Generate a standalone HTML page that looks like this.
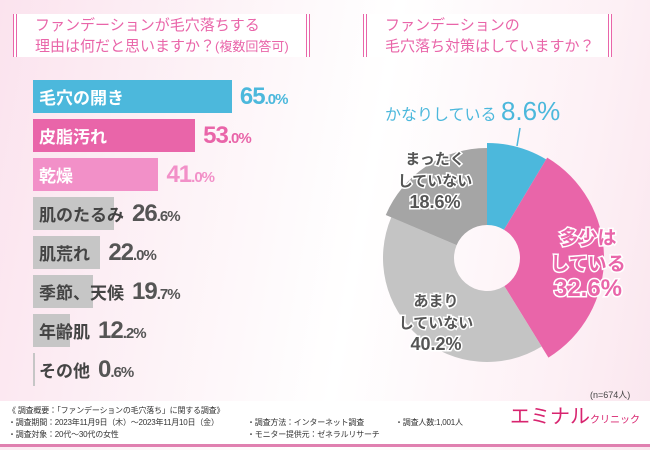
<!DOCTYPE html>
<html><head><meta charset="utf-8">
<style>
*{margin:0;padding:0;box-sizing:border-box}
body{width:650px;height:450px;overflow:hidden;font-family:"Liberation Sans","Noto Sans CJK JP",sans-serif;position:relative;background:linear-gradient(100deg,#fbe3ee 0%,#fdf3f7 30%,#fff 55%,#fdf0f5 85%,#fae6ee 100%)}
.tbox{position:absolute;background:#fff;border-left:4px double #e965a9;border-right:4px double #e965a9;color:#e965a9;font-size:15px;line-height:21px;padding:1px 0 0 18px}
.row{position:absolute;left:33px;height:33px;display:flex;align-items:center}
.bar{position:absolute;left:0;top:0;height:33px}
.lab{position:relative;font-size:17px;padding-left:6px;color:#444;font-weight:bold}
.val{position:relative;margin-left:8px;font-weight:bold;color:#555;letter-spacing:-1px}
.val b{font-size:24px}.val i{font-style:normal;font-size:15px}
.foot{position:absolute;left:0;top:401px;width:650px;height:46px;background:#fff;border-bottom:3px solid #e080b0;font-size:8px;color:#333;line-height:12px;letter-spacing:-0.2px;white-space:nowrap}
</style></head><body>
<div class="tbox" style="left:13px;top:14px;width:297px;height:43px">ファンデーションが毛穴落ちする<br>理由は何だと思いますか？<span style="font-size:13px">(複数回答可)</span></div>
<div class="tbox" style="left:363px;top:14px;width:249px;height:43px">ファンデーションの<br>毛穴落ち対策はしていますか？</div>
<div id="bars"></div>
<svg id="pie" width="650" height="450" style="position:absolute;left:0;top:0"></svg>
<div style="position:absolute;left:590px;top:388px;font-size:9px;color:#444">(n=674人)</div>
<div class="foot">
<div style="position:absolute;left:8px;top:4px">《 調査概要：「ファンデーションの毛穴落ち」に関する調査》<br>・調査期間：2023年11月9日（木）～2023年11月10日（金）<br>・調査対象：20代～30代の女性</div>
<div style="position:absolute;left:247px;top:16px">・調査方法：インターネット調査<br>・モニター提供元：ゼネラルリサーチ</div>
<div style="position:absolute;left:395px;top:16px">・調査人数:1,001人</div>
<div style="position:absolute;left:510px;top:10px;color:#d8246f;font-size:20px;letter-spacing:0;white-space:nowrap">エミナル<span style="font-size:10px">クリニック</span></div>
</div>
<script>
const categories=["毛穴の開き","皮脂汚れ","乾燥","肌のたるみ","肌荒れ","季節、天候","年齢肌","その他"];
const values=[65.0,53.0,41.0,26.6,22.0,19.7,12.2,0.6];
const barColors=["#4cb8dc","#e965a9","#f290c8","#c6c6c6","#c6c6c6","#c6c6c6","#c6c6c6","#c6c6c6"];
const valColors=["#4cb8dc","#e965a9","#f290c8","#555","#555","#555","#555","#555"];
const pieLabels=["かなりしている","多少はしている","あまりしていない","まったくしていない"];
const pieValues=[8.6,32.6,40.2,18.6];
const pieColors=["#4cb8dc","#e965a9","#c4c4c4","#a5a5a5"];
const pieRadii=[115,117,104,110];
const xs=v=>v*3.06, ys=i=>80+i*39;
const bc=document.getElementById('bars');
categories.forEach((c,i)=>{
 const r=document.createElement('div');r.className='row';r.style.top=ys(i)+'px';
 
 
 const b=document.createElement('div');b.className='bar';b.style.width=Math.max(xs(values[i]),2)+'px';b.style.background=barColors[i];
 
 
 const l=document.createElement('span');l.className='lab';l.textContent=c;
 
 
 if(i<3){l.style.color='#fff';l.style.textShadow='0 0 2px '+barColors[i];}
 l.style.minWidth=(xs(values[i]))+'px';
 const v=document.createElement('span');v.className='val';v.style.color=valColors[i];
 
 
 const p=values[i].toFixed(1).split('.');v.innerHTML='<b>'+p[0]+'</b><i>.'+p[1]+'%</i>';
 r.append(b,l,v);bc.appendChild(r);
});
const svg=document.getElementById('pie'),NS='http://www.w3.org/2000/svg';
const cx=487,cy=258,ri=33,tot=pieValues.reduce((a,b)=>a+b,0);
let a0=-Math.PI/2;
const pt=(r,a)=>[cx+r*Math.cos(a),cy+r*Math.sin(a)];
pieValues.forEach((v,i)=>{
 const a1=a0+v/tot*2*Math.PI,R=pieRadii[i],lg=(a1-a0)>Math.PI?1:0;
 const [x0,y0]=pt(R,a0),[x1,y1]=pt(R,a1),[x2,y2]=pt(ri,a1),[x3,y3]=pt(ri,a0);
 const p=document.createElementNS(NS,'path');
 p.setAttribute('d',`M${x0},${y0}A${R},${R} 0 ${lg} 1 ${x1},${y1}L${x2},${y2}A${ri},${ri} 0 ${lg} 0 ${x3},${y3}Z`);
 p.setAttribute('fill',pieColors[i]);
 
 
 svg.appendChild(p);a0=a1;
});
const line=document.createElementNS(NS,'line');
line.setAttribute('x1',520);line.setAttribute('y1',128);line.setAttribute('x2',517);line.setAttribute('y2',146);line.setAttribute('stroke','#4cb8dc');line.setAttribute('stroke-width',1.5);


svg.appendChild(line);
function txt(lines,x,y,fill,stroke,size,lh){
 const t=document.createElementNS(NS,'text');t.setAttribute('text-anchor','middle');t.setAttribute('fill',fill);t.setAttribute('font-weight','bold');
 
 
 if(stroke){t.setAttribute('stroke',stroke);t.setAttribute('stroke-width',3);t.setAttribute('paint-order','stroke');}
 lines.forEach((l,k)=>{const s=document.createElementNS(NS,'tspan');s.setAttribute('x',x);s.setAttribute('y',y+k*lh);s.setAttribute('font-size',l[1]);s.textContent=l[0];t.appendChild(s);});
 svg.appendChild(t);
}
const pv=i=>pieValues[i].toFixed(1)+'%';
const t0=document.createElementNS(NS,'text');t0.setAttribute('x',385);t0.setAttribute('y',120);t0.setAttribute('fill','#4cb8dc');t0.setAttribute('font-size',16);


t0.innerHTML='かなりしている <tspan font-size="26">'+pv(0)+'</tspan>';svg.appendChild(t0);
txt([["多少は",19],["している",19],[pv(1),24]],588,244,'#e965a9','#fff',0,26);
txt([["まったく",15],["していない",15],[pv(3),18]],435,164,'#555','#fff',0,22);
txt([["あまり",15],["していない",15],[pv(2),18]],436,306,'#555','#fff',0,22);
</script>
</body></html>
